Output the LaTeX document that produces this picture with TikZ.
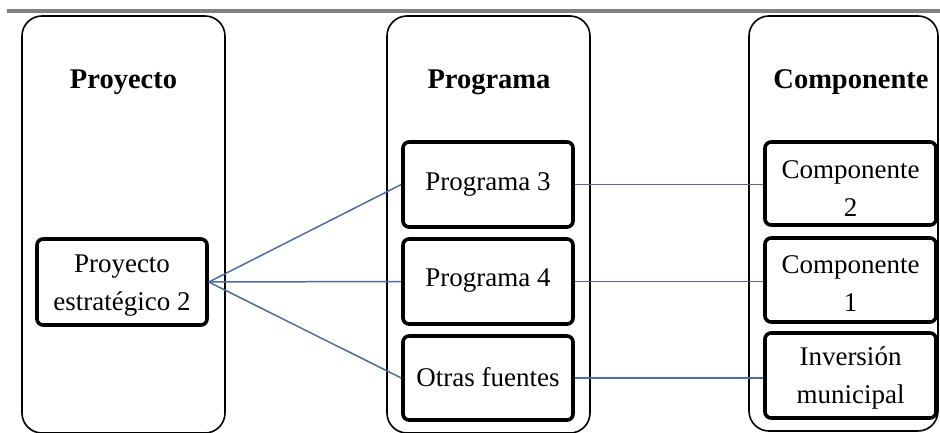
\documentclass[tikz,border=0pt]{standalone}
\usepackage{fontspec}
\setmainfont{Liberation Serif}
\begin{document}
\begin{tikzpicture}[x=1pt,y=-1pt,
  colbox/.style={draw=black,line width=1.6pt,rounded corners=20pt},
  itembox/.style={draw=black,line width=3.6pt,rounded corners=6pt,inner sep=0pt},
  itemtext/.style={inner sep=0pt,align=center,font=\fontsize{27}{38}\selectfont},
  coltitle/.style={font=\fontsize{28.5}{32}\selectfont\bfseries,inner sep=0pt},
  link/.style={draw={rgb,255:red,72;green,110;blue,165},line width=1.5pt}]
\useasboundingbox (0,0) rectangle (940,433);
% top rule
\fill[black!50] (7,9) rectangle (940,13);
% column frames
\draw[colbox] (22,16) rectangle (225,433);
\draw[colbox] (387,16) rectangle (590,433);
\draw[colbox] (749,16) rectangle (938,431);
% titles
\node[coltitle] (t1) at (123.5,82) {Proyecto};
\node[coltitle] (t2) at (489,82) {Programa};
\node[coltitle] (t3) at (851,82) {Componente};
% items
\node[itembox,minimum width=170pt,minimum height=86pt] (pe) at (122,282) {};
\node[itemtext] (pet) at (122,286) {Proyecto\\estratégico 2};
\node[itembox,minimum width=170pt,minimum height=85pt] (p3) at (488,184.5) {};
\node[itemtext] (p3t) at (488,184) {Programa 3};
\node[itembox,minimum width=170pt,minimum height=85pt] (p4) at (488,281.5) {};
\node[itemtext] (p4t) at (488,281) {Programa 4};
\node[itembox,minimum width=170pt,minimum height=84pt] (of) at (488,378) {};
\node[itemtext] (oft) at (488,377) {Otras fuentes};
\node[itembox,minimum width=171pt,minimum height=83pt] (c2) at (850.5,183.5) {};
\node[itemtext] (c2t) at (850.5,189) {Componente\\2};
\node[itembox,minimum width=171pt,minimum height=84pt] (c1) at (850.5,280) {};
\node[itemtext] (c1t) at (850.5,284) {Componente\\1};
\node[itembox,minimum width=171pt,minimum height=85pt] (im) at (850.5,375.5) {};
\node[itemtext] (imt) at (850.5,378) {Inversión\\municipal};
% connectors
\draw[link] (pe.east) -- (p3.west);
\draw[link] (pe.east) -- (p4.west);
\draw[link] (pe.east) -- (of.west);
\draw[link] (p3.east) -- (p3.east -| c2.west);
\draw[link] (p4.east) -- (p4.east -| c1.west);
\draw[link] (of.east) -- (of.east -| im.west);
\end{tikzpicture}
\end{document}
